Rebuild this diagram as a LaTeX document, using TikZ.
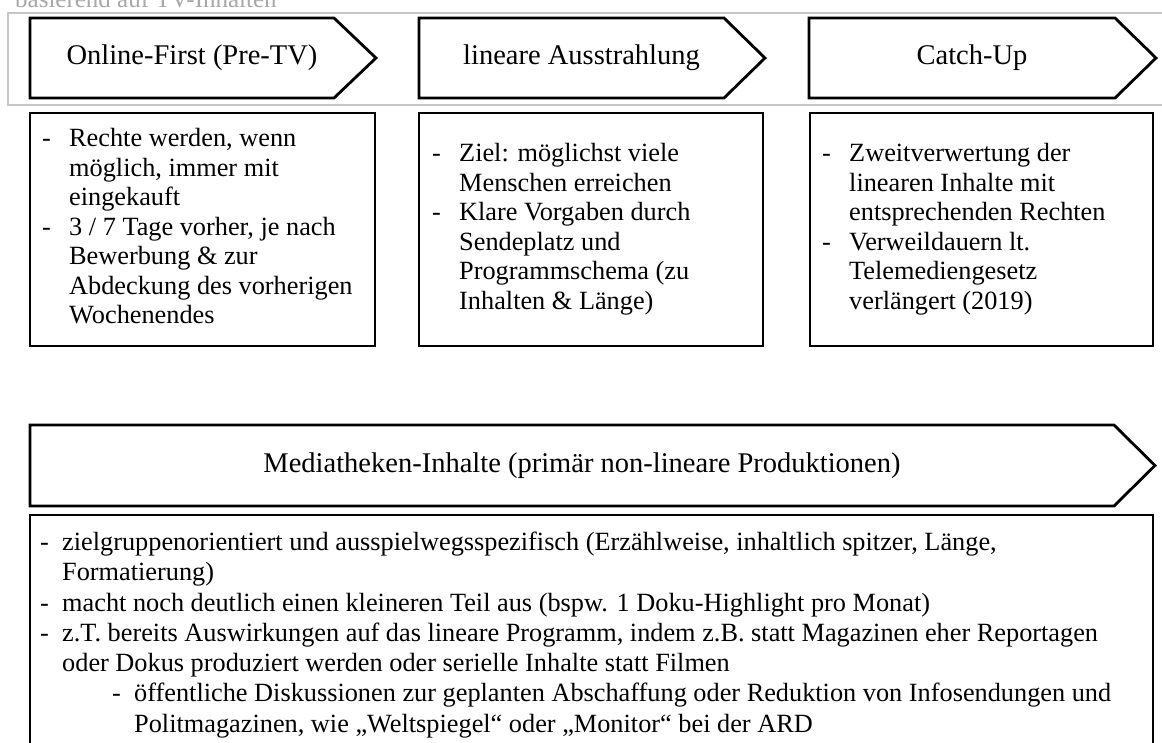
\documentclass[tikz,border=0pt]{standalone}
\usepackage{fontspec}
\setmainfont{Liberation Serif}
\usepackage{array}
\usetikzlibrary{positioning}
\definecolor{rahmengrau}{HTML}{C6C6C6}
\definecolor{titelgrau}{HTML}{A8A8A8}

\begin{document}
\begin{tikzpicture}[x=1pt, y=-1pt,
  kasten/.style={draw=black, line width=2.8pt, line join=miter},
  kopf/.style={font=\fontsize{28.5}{32}\selectfont, inner sep=0pt},
  inhalt/.style={font=\fontsize{26.3}{29.5}\selectfont, inner sep=0pt, anchor=west}]
  \useasboundingbox (0,0) rectangle (1162,742);

  % grey frame round the three phases (cut off by the page)
  \node[anchor=base west, text=titelgrau, font=\fontsize{25}{28}\selectfont, inner sep=0pt]
    (titel) at (15,7) {basierend auf TV-Inhalten};
  \draw[rahmengrau, line width=2pt] (1180,13) -- (8,13) -- (8,105) -- (1180,105);

  % Phase arrows: left edge / end of body / tip
  \def\yo{18}
  \def\yu{98}
  \def\ym{58}
  \foreach \l/\r/\t/\name/\txt in {30/334/376/online/{Online-First (Pre-TV)},
                                   419/724/765/linear/{lineare Ausstrahlung},
                                   809/1115/1156/catchup/{Catch-Up}} {
    \draw[kasten] (\l,\yo) -- (\r,\yo) -- (\t,\ym) -- (\r,\yu) -- (\l,\yu) -- cycle;
    \node[kopf] (\name) at ({(\l+\r)/2+10},\ym) {\txt};
  }

  % --- text boxes below the phases ---
  \def\ko{113}
  \def\ku{346}
  \draw[kasten] (30,\ko) rectangle (375,\ku);
  \draw[kasten] (419,\ko) rectangle (763,\ku);
  \draw[kasten] (810,\ko) rectangle (1153,\ku);

  \node[inhalt] (rechte) at (42,{(\ko+\ku)/2}) {%
    \begin{tabular}{@{}p{27pt}@{}l@{}}
      - & Rechte werden, wenn\\
        & möglich, immer mit\\
        & eingekauft\\
      - & 3 / 7 Tage vorher, je nach\\
        & Bewerbung \& zur\\
        & Abdeckung des vorherigen\\
        & Wochenendes
    \end{tabular}};
  \node[inhalt] (ziel) at (432,{(\ko+\ku)/2}) {%
    \begin{tabular}{@{}p{27pt}@{}l@{}}
      - & Ziel: möglichst viele\\
        & Menschen erreichen\\
      - & Klare Vorgaben durch\\
        & Sendeplatz und\\
        & Programmschema (zu\\
        & Inhalten \& Länge)
    \end{tabular}};
  \node[inhalt] (zweit) at (822,{(\ko+\ku)/2}) {%
    \begin{tabular}{@{}p{27pt}@{}l@{}}
      - & Zweitverwertung der\\
        & linearen Inhalte mit\\
        & entsprechenden Rechten\\
      - & Verweildauern lt.\\
        & Telemediengesetz\\
        & verlängert (2019)
    \end{tabular}};

  % --- Mediatheken arrow over the whole width ---
  \draw[kasten] (30,425) -- (1114,425) -- (1155,465.5) -- (1114,506) -- (30,506) -- cycle;
  \node[kopf] (mediathek) at (582,465.5) {Mediatheken-Inhalte (primär non-lineare Produktionen)};

  % lower box, open at the bottom
  \draw[kasten] (30,760) -- (30,515) -- (1153,515) -- (1153,760);
  \node[inhalt, anchor=north west, font=\fontsize{26.3}{30.3}\selectfont] (ziel2) at (40,529) {%
    \begin{tabular}{@{}p{22pt}@{}l@{}}
      - & zielgruppenorientiert und ausspielwegsspezifisch (Erzählweise, inhaltlich spitzer, Länge,\\
        & Formatierung)\\
      - & macht noch deutlich einen kleineren Teil aus (bspw. 1 Doku-Highlight pro Monat)\\
      - & z.T. bereits Auswirkungen auf das lineare Programm, indem z.B. statt Magazinen eher Reportagen\\
        & oder Dokus produziert werden oder serielle Inhalte statt Filmen\\
        & \hspace{50pt}\makebox[22pt][l]{-}öffentliche Diskussionen zur geplanten Abschaffung oder Reduktion von Infosendungen und\\
        & \hspace{72pt}Politmagazinen, wie „Weltspiegel“ oder „Monitor“ bei der ARD
    \end{tabular}};
\end{tikzpicture}
\end{document}
